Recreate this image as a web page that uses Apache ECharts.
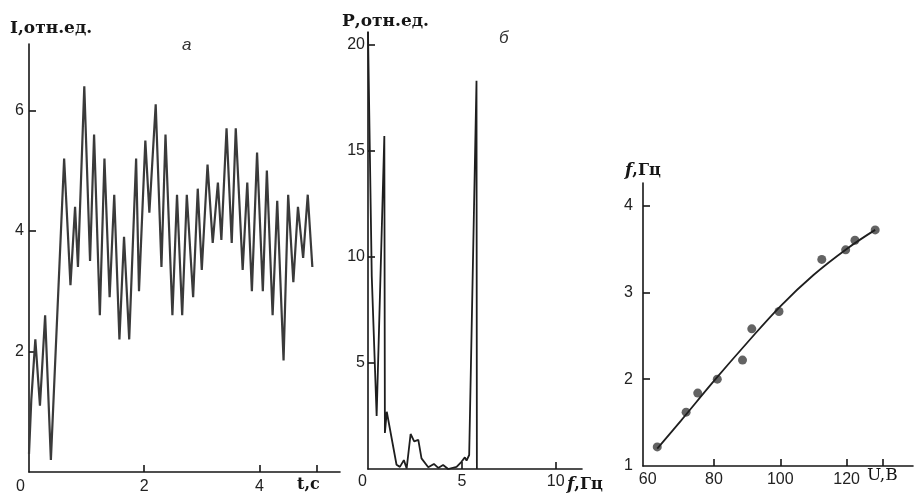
<!DOCTYPE html>
<html>
<head>
<meta charset="utf-8">
<script src="https://cdn.jsdelivr.net/npm/echarts@6/dist/echarts.min.js"></script>
<style>
  html, body { margin: 0; padding: 0; background: #fff; }
  #main { width: 915px; height: 495px; }
</style>
</head>
<body>
<div id="main"></div>
<script>
// а: интенсивность I(t)
var tA = [0, 0.04, 0.11, 0.19, 0.28, 0.38, 0.61, 0.72, 0.80, 0.85, 0.96, 1.06, 1.13, 1.23, 1.31, 1.40,
  1.48, 1.57, 1.65, 1.74, 1.86, 1.91, 2.02, 2.09, 2.20, 2.30, 2.37, 2.49, 2.57, 2.66, 2.74,
  2.85, 2.93, 3.00, 3.10, 3.19, 3.28, 3.34, 3.43, 3.52, 3.59, 3.71, 3.79, 3.87, 3.96, 4.06,
  4.13, 4.23, 4.31, 4.42, 4.50, 4.59, 4.67, 4.76, 4.84, 4.92];
var iA = [0.3, 1.2, 2.2, 1.1, 2.6, 0.2, 5.2, 3.1, 4.4, 3.4, 6.4, 3.5, 5.6, 2.6, 5.2, 2.9,
  4.6, 2.2, 3.9, 2.2, 5.2, 3.0, 5.5, 4.3, 6.1, 3.4, 5.6, 2.6, 4.6, 2.6, 4.6,
  2.9, 4.7, 3.35, 5.1, 3.8, 4.8, 3.85, 5.7, 3.8, 5.7, 3.35, 4.8, 3.0, 5.3, 3.0,
  5.0, 2.6, 4.5, 1.85, 4.6, 3.15, 4.4, 3.55, 4.6, 3.4];
var labelsA = [0, 2, 4];
var yTicksA = [2, 4, 6];

// б: спектр P(f)
var fB = [0, 0.2, 0.46, 0.87, 0.9, 1.0, 1.52, 1.7, 1.91, 2.06, 2.27, 2.46, 2.68, 2.85, 3.21,
  3.51, 3.74, 4.0, 4.27, 4.72, 4.98, 5.16, 5.25, 5.39, 5.78, 5.8];
var pB = [20.6, 9.1, 2.5, 15.7, 1.7, 2.7, 0.2, 0.1, 0.42, 0.03, 1.65, 1.3, 1.37, 0.5, 0.08,
  0.24, 0.05, 0.19, 0, 0.1, 0.34, 0.55, 0.4, 0.66, 18.3, 0];
var labelsB = [0, 5, 10];
var yTicksB = [5, 10, 15, 20];

// в: частота от напряжения
var uPts = [62.9, 71.6, 75.1, 81.0, 88.6, 91.4, 99.6, 112.5, 119.7, 122.5, 128.6];
var fPts = [1.22, 1.62, 1.84, 2.0, 2.22, 2.58, 2.78, 3.38, 3.49, 3.6, 3.72];
var uFit = [62.9, 70, 80, 90, 100, 110, 120, 128.6];
var fFit = [1.2, 1.52, 1.98, 2.42, 2.84, 3.2, 3.5, 3.72];
var labelsC = [60, 80, 100, 120];
var yTicksC = [1, 2, 3, 4];

function pairs(xs, ys) {
  var out = [];
  for (var i = 0; i < xs.length; i++) {
    out.push([xs[i], ys[i]]);
  }
  return out;
}

var numFont = '"Liberation Sans Narrow", "Liberation Sans", sans-serif';
var nameFont = '"DejaVu Serif", "Liberation Serif", serif';
var ink = '#161616';

function axisBase(gridIndex, min, max, labels, ticks, extra) {
  var ax = {
    type: 'value',
    gridIndex: gridIndex,
    min: min,
    max: max,
    splitLine: { show: false },
    axisLine: { show: true, lineStyle: { color: ink, width: 1.6 } },
    axisTick: { show: true, inside: true, length: 7, customValues: ticks, lineStyle: { color: ink, width: 1.6 } },
    axisLabel: {
      customValues: labels,
      color: '#222',
      fontSize: 16,
      fontFamily: numFont
    }
  };
  if (extra) {
    for (var k in extra) {
      ax.axisLabel[k] = extra[k];
    }
  }
  return ax;
}

// 名称文字（f 斜体）
function fLabel(left, top) {
  return {
    type: 'text', left: left, top: top,
    style: {
      text: '{i|f}{n|,Гц}',
      rich: {
        i: { fontSize: 17, fontStyle: 'italic', fontWeight: 'bold', fontFamily: nameFont, fill: ink },
        n: { fontSize: 16, fontWeight: 'bold', fontFamily: nameFont, fill: ink }
      }
    }
  };
}

var myChart = echarts.init(document.getElementById('main'));

var option = {
  backgroundColor: '#fff',
  animation: false,
  grid: [
    { left: 29, top: 44, width: 311, bottom: 21 },
    { left: 368, top: 32, width: 214, bottom: 26 },
    { left: 643, top: 183, width: 270, bottom: 29 }
  ],
  xAxis: [
    axisBase(0, 0, 5.4, labelsA, [2, 4, 5], {
      margin: 7,
      rich: { z: { padding: [0, 17, 0, 0], fontSize: 16, fontFamily: numFont, color: '#222' } },
      formatter: function (v) { return v === 0 ? '{z|0}' : String(v); }
    }),
    axisBase(1, 0, 11.4, labelsB, [5, 10], {
      margin: 5,
      rich: { z: { padding: [0, 11, 0, 0], fontSize: 16, fontFamily: numFont, color: '#222' } },
      formatter: function (v) { return v === 0 ? '{z|0}' : String(v); }
    }),
    axisBase(2, 58.6, 140, labelsC, [80, 100, 120, 131], { margin: 6 })
  ],
  yAxis: [
    axisBase(0, 0, 7.1, yTicksA, yTicksA, { margin: 5 }),
    axisBase(1, 0, 20.6, yTicksB, yTicksB, { margin: 3 }),
    axisBase(2, 1, 4.26, yTicksC, [2, 3, 4], { margin: 10 })
  ],
  graphic: [
    { type: 'text', left: 10, top: 20, style: { text: 'I,отн.ед.', fontSize: 17, fontWeight: 'bold', fontFamily: nameFont, fill: ink } },
    { type: 'text', left: 182, top: 37, style: { text: 'а', fontSize: 17, fontStyle: 'italic', fontFamily: numFont, fill: '#333' } },
    { type: 'text', left: 342, top: 13, style: { text: 'Р,отн.ед.', fontSize: 17, fontWeight: 'bold', fontFamily: nameFont, fill: ink } },
    { type: 'text', left: 499, top: 30, style: { text: 'б', fontSize: 17, fontStyle: 'italic', fontFamily: numFont, fill: '#333' } },
    { type: 'text', left: 297, top: 477, style: { text: 't,c', fontSize: 16, fontWeight: 'bold', fontFamily: nameFont, fill: ink } },
    fLabel(567, 476),
    fLabel(625, 162),
    { type: 'text', left: 867, top: 467, style: { text: 'U,B', fontSize: 17, fontFamily: nameFont, fill: ink } }
  ],
  series: [
    {
      name: 'I',
      type: 'line',
      xAxisIndex: 0,
      yAxisIndex: 0,
      showSymbol: false,
      lineStyle: { color: '#3a3a3a', width: 2.2 },
      data: pairs(tA, iA)
    },
    {
      name: 'P',
      type: 'line',
      xAxisIndex: 1,
      yAxisIndex: 1,
      showSymbol: false,
      lineStyle: { color: '#1e1e1e', width: 1.8 },
      data: pairs(fB, pB)
    },
    {
      name: 'fit',
      type: 'line',
      xAxisIndex: 2,
      yAxisIndex: 2,
      smooth: 0.4,
      showSymbol: false,
      lineStyle: { color: '#1e1e1e', width: 1.8 },
      data: pairs(uFit, fFit)
    },
    {
      name: 'f',
      type: 'scatter',
      xAxisIndex: 2,
      yAxisIndex: 2,
      symbolSize: 9,
      itemStyle: { color: '#3c3c3c' },
      data: pairs(uPts, fPts)
    }
  ]
};

myChart.setOption(option);

window.addEventListener('resize', function () {
  myChart.resize();
});
</script>
</body>
</html>
